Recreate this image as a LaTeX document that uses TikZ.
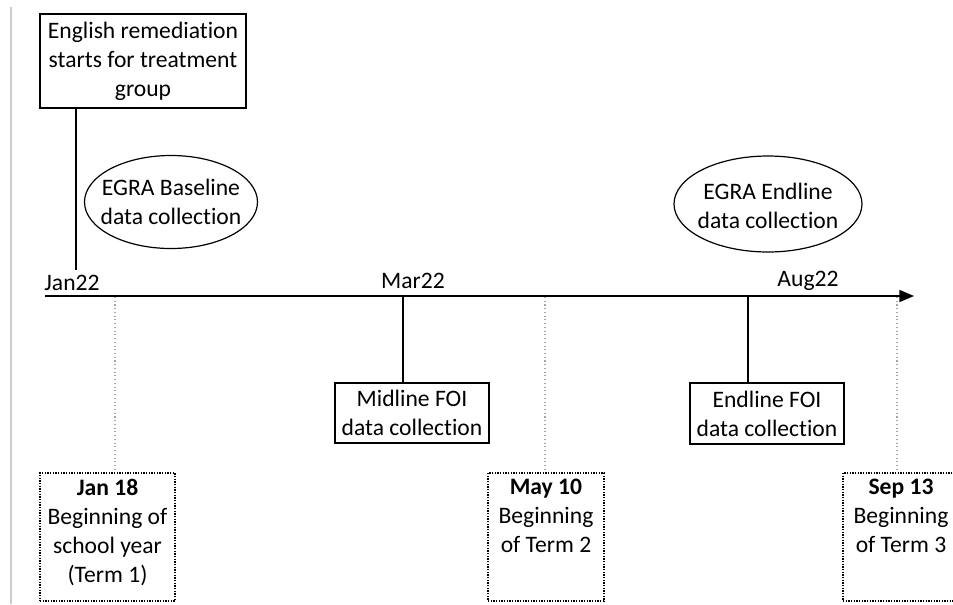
\documentclass[tikz,border=0pt]{standalone}
\usepackage{fontspec}
\setmainfont{Carlito}[Ligatures=NoCommon]
\usetikzlibrary{shapes.geometric,arrows.meta}
\begin{document}
\begin{tikzpicture}[x=0.75pt,y=-0.75pt,
  txt/.style={font=\fontsize{17.7}{21.8}\selectfont, align=center, inner sep=0pt},
  solidbox/.style={draw, line width=1pt, inner sep=0pt},
  termbox/.style={draw, line width=1pt, densely dotted, inner sep=0pt, minimum width=87pt, minimum height=96pt},
  oval/.style={draw, ellipse, line width=0.9pt, inner sep=0pt},
  stem/.style={line width=1.1pt},
  guide/.style={draw=black!35, line width=0.8pt, dotted}
]
\useasboundingbox (0,0) rectangle (953,604);
% page margin line
\draw[black!20, line width=1.2pt] (11,7) -- (11,604);

% timeline
\coordinate (tl0) at (45,296);
\coordinate (tl1) at (914,296);
\draw[line width=1.2pt, -{Triangle[length=11pt,width=9pt]}] (tl0) -- (tl1);

% month labels
\node[txt] (jan22) at (72,283) {Jan22};
\node[txt] (mar22) at (413,281) {Mar22};
\node[txt] (aug22) at (808,281) {Aug22};

% top box
\node[solidbox, txt, draw, line width=1pt, minimum width=154.5pt, minimum height=70.5pt] (eng) at (143,61)
  {English remediation\\starts for treatment\\group};
\coordinate (cEng) at (76,270);
\draw[stem] (eng.south -| cEng) -- (cEng);

% ellipses
\node[oval, minimum width=129.75pt, minimum height=69.75pt] (base) at (171,202) {};
\node[txt] (baset) at (base.center) {EGRA Baseline\\data collection};
\node[oval, minimum width=141pt, minimum height=72pt] (endl) at (768,204) {};
\node[txt] (endlt) at ([yshift=-1.5pt]endl.center) {EGRA Endline\\data collection};

% FOI boxes
\node[solidbox, txt, draw, line width=1pt, minimum width=115.5pt, minimum height=45pt] (mid) at (412,413)
  {Midline FOI\\data collection};
\node[solidbox, txt, draw, line width=1pt, minimum width=115.5pt, minimum height=45.75pt] (efoi) at (767,413.5)
  {Endline FOI\\data collection};
\coordinate (cMid) at (403,296);
\coordinate (cEnd) at (748,296);
\draw[stem] (cMid) -- (cMid |- mid.north);
\draw[stem] (cEnd) -- (cEnd |- efoi.north);

% term boxes
\node[termbox, minimum width=101.25pt] (jan) at (107.5,537) {};
\node[termbox] (may) at (546,537) {};
\node[termbox] (sep) at (901,537) {};
\node[txt, anchor=north] (jant) at ([yshift=-5pt]jan.north) {\textbf{Jan 18}\\Beginning of\\school year\\(Term 1)};
\node[txt, anchor=north] (mayt) at ([yshift=-5pt]may.north) {\textbf{May 10}\\Beginning\\of Term 2};
\node[txt, anchor=north] (sept) at ([yshift=-5pt]sep.north) {\textbf{Sep 13}\\Beginning\\of Term 3};
\coordinate (cJan) at (115,297);
\coordinate (cMay) at (545,297);
\coordinate (cSep) at (897,297);
\draw[guide] (cJan) -- (cJan |- jan.north);
\draw[guide] (cMay) -- (cMay |- may.north);
\draw[guide] (cSep) -- (cSep |- sep.north);
\end{tikzpicture}
\end{document}
